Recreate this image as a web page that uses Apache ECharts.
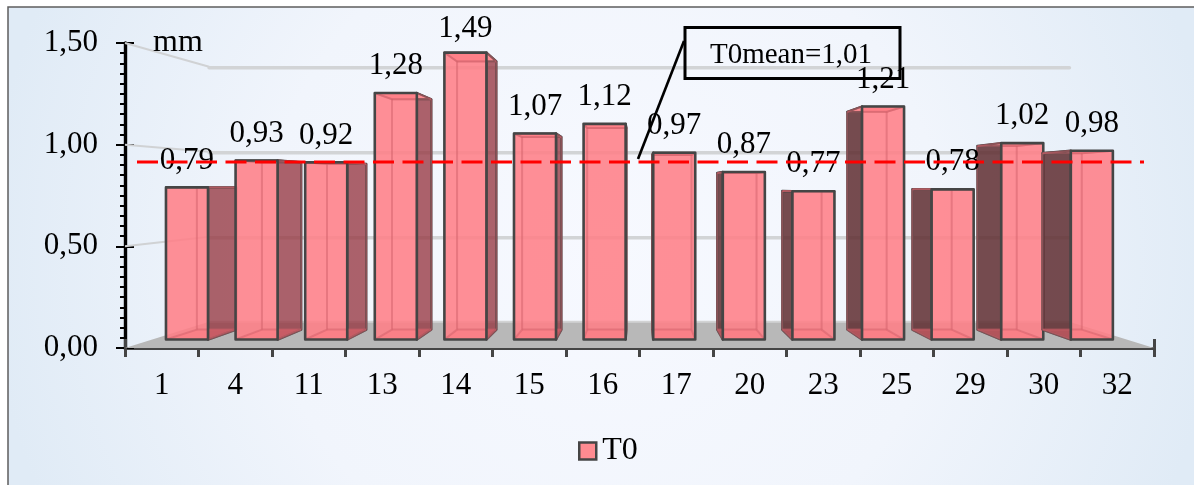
<!DOCTYPE html>
<html>
<head>
<meta charset="utf-8">
<style>html,body{margin:0;padding:0;background:#fff}#chart{width:1194px;height:485px}</style>
<script src="https://cdn.jsdelivr.net/npm/echarts@6/dist/echarts.min.js"></script>
</head>
<body>
<div id="chart"></div>
<script>
// Specimen numbers on the category axis
const specimens = ['1', '4', '11', '13', '14', '15', '16', '17', '20', '23', '25', '29', '30', '32'];
// T0 thickness per specimen, in mm
const t0Values = [0.79, 0.93, 0.92, 1.28, 1.49, 1.07, 1.12, 0.97, 0.87, 0.77, 1.21, 0.78, 1.02, 0.98];
const gridLevels = [0.5, 1.0, 1.5];
const meanLineLevel = 0.915;
const meanCaption = 'T0mean=1,01';
const seriesName = 'T0';
const unitName = 'mm';

const SERIF = '"Liberation Serif","Times New Roman",serif';
const comma = v => v.toFixed(2).replace('.', ',');

// One-point perspective: depth factors for the front of the bars, their back and the rear wall
const KF = 0.947, KB = 0.885, KW = 0.836, VX = 638, VY = 188;
const persp = (p, k) => [VX + (p[0] - VX) * k, VY + (p[1] - VY) * k];

function renderRoom(params, api) {
  const cs = params.coordSys;
  const l = cs.x, r = cs.x + cs.width, b = cs.y + cs.height;
  const kids = [{
    type: 'polygon',
    shape: { points: [[l, b], [r, b], persp([r, b], KW), persp([l, b], KW)] },
    style: { fill: '#b8b8b8' }
  }, {
    type: 'line',
    shape: { x1: persp([l, b], KW)[0], y1: persp([l, b], KW)[1], x2: persp([r, b], KW)[0], y2: persp([r, b], KW)[1] },
    style: { stroke: '#d2d3d4', lineWidth: 2 }
  }];
  gridLevels.forEach(v => {
    const y = api.coord([0, v])[1];
    const a = persp([l, y], KW), c = persp([r, y], KW);
    kids.push({ type: 'line', shape: { x1: l, y1: y, x2: a[0], y2: a[1] }, style: { stroke: '#d0d2d4', lineWidth: 2 } });
    kids.push({ type: 'line', shape: { x1: a[0], y1: a[1] + 1, x2: c[0], y2: c[1] + 1 }, style: { stroke: '#d2d4d6', lineWidth: 3.6, lineCap: 'round' } });
  });
  return { type: 'group', children: kids };
}

function renderBar(params, api) {
  const idx = api.value(0), v = api.value(1);
  const top = api.coord([idx, v]), base = api.coord([idx, 0]);
  const hw = api.size([1, 0])[0] * 0.302;
  const corners = k => ({
    lt: persp([base[0] - hw, top[1]], k), rt: persp([base[0] + hw, top[1]], k),
    lb: persp([base[0] - hw, base[1]], k), rb: persp([base[0] + hw, base[1]], k)
  });
  const f = corners(KF), k = corners(KB);
  const edge = '#454545';
  const leftOfCentre = f.rt[0] < VX;
  const sidePts = leftOfCentre ? [f.rt, k.rt, k.rb, f.rb] : [f.lt, k.lt, k.lb, f.lb];
  const inner = 'rgba(210,95,105,0.5)';
  const line = (a, c) => ({ type: 'line', shape: { x1: a[0], y1: a[1], x2: c[0], y2: c[1] }, style: { stroke: inner, lineWidth: 2 } });
  return {
    type: 'group',
    children: [
      { type: 'polygon', shape: { points: sidePts }, style: { fill: leftOfCentre ? 'rgba(150,55,65,0.78)' : 'rgba(95,45,48,0.85)', stroke: edge, lineWidth: 2.4, lineJoin: 'round' } },
      { type: 'polygon', shape: { points: [f.lb, f.rb, k.rb, k.lb] }, style: { fill: 'rgba(235,100,110,0.55)' } },
      { type: 'polygon', shape: { points: [f.lt, f.rt, k.rt, k.lt] }, style: { fill: '#fc8d93', stroke: edge, lineWidth: 1.8, lineJoin: 'round' } },
      { type: 'polygon', shape: { points: [f.lt, f.rt, f.rb, f.lb] }, style: { fill: 'rgba(255,126,134,0.87)' } },
      line(k.lt, k.lb), line(k.rt, k.rb), line(k.lt, k.rt), line(k.lb, k.rb),
      line(f.lt, k.lt), line(f.rt, k.rt), line(f.lb, k.lb), line(f.rb, k.rb),
      { type: 'polygon', shape: { points: [f.lt, f.rt, f.rb, f.lb] }, style: { fill: 'none', stroke: edge, lineWidth: 2.6, lineJoin: 'round' } }
    ]
  };
}

function renderValueLabel(params, api) {
  const idx = api.value(0), v = api.value(1);
  const p = persp(api.coord([idx, v]), KF);
  return {
    type: 'text',
    // The tallest bar's label stays below the top of the frame
    style: { text: comma(v), x: p[0], y: Math.max(p[1] - 27, 29), align: 'center', verticalAlign: 'middle', font: '31px ' + SERIF, fill: '#000' }
  };
}

function renderMeanLine(params, api) {
  const cs = params.coordSys;
  const y = api.coord([0, meanLineLevel])[1];
  return {
    type: 'line',
    shape: { x1: cs.x + 12, y1: y, x2: cs.x + cs.width - 10, y2: y },
    style: { stroke: '#ff0000', lineWidth: 3, lineDash: [21, 8.5] }
  };
}

const barData = t0Values.map((v, i) => [i, v]);
const oneItem = [[0, 0]];
const layerBase = { type: 'custom', animation: false, silent: true, clip: false, encode: { x: 0, y: 1 } };

const chart = echarts.init(document.getElementById('chart'), null, { renderer: 'canvas' });
chart.setOption({
  animation: false,
  backgroundColor: '#ffffff',
  textStyle: { fontFamily: SERIF },
  grid: { left: 125, right: 40, top: 43, bottom: 137, containLabel: false },
  legend: {
    left: 573, top: 430,
    data: [{ name: seriesName, icon: 'rect', itemStyle: { color: '#ff8b91', borderColor: '#454545', borderWidth: 2.5 } }],
    itemWidth: 17, itemHeight: 17, itemGap: 4, selectedMode: false,
    textStyle: { fontFamily: SERIF, fontSize: 32, color: '#000', padding: [0, 0, 0, 1] }
  },
  xAxis: [{
    type: 'category', data: specimens, position: 'bottom',
    axisLine: { lineStyle: { color: '#454545', width: 3 } },
    axisTick: { show: true, length: 9, lineStyle: { color: '#454545', width: 3 } },
    axisLabel: { fontFamily: SERIF, fontSize: 31, color: '#000', margin: 22 },
    splitLine: { show: false }
  }, {
    type: 'category', data: specimens, position: 'bottom',
    axisLine: { show: false },
    axisTick: { show: true, inside: true, length: 9, lineStyle: { color: '#454545', width: 3 } },
    axisLabel: { show: false }, splitLine: { show: false }
  }],
  yAxis: [{
    type: 'value', min: 0, max: 1.5, interval: 0.5, position: 'left',
    axisLine: { show: true, lineStyle: { color: '#000', width: 3.4 } },
    axisTick: { show: true, length: 9, lineStyle: { color: '#000', width: 2 } },
    minorTick: { show: true, splitNumber: 10, length: 5, lineStyle: { color: '#000', width: 2 } },
    axisLabel: { fontFamily: SERIF, fontSize: 31, color: '#000', margin: 27, padding: [6, 0, 0, 0], formatter: comma },
    splitLine: { show: false }
  }, {
    type: 'value', min: 0, max: 1.5, interval: 0.5, position: 'left',
    axisLine: { show: false },
    axisTick: { show: true, inside: true, length: 9, lineStyle: { color: '#000', width: 2 } },
    axisLabel: { show: false }, splitLine: { show: false }
  }],
  graphic: [{
    type: 'rect', z: -10, silent: true,
    shape: { x: 8, y: 7, width: 1192, height: 484 },
    style: {
      stroke: '#5e5e5e', lineWidth: 1.5,
      fill: {
        type: 'radial', x: 0.5, y: 0.5, r: 1.27,
        colorStops: [{ offset: 0, color: '#f7f9ff' }, { offset: 0.55, color: '#f1f5fc' }, { offset: 1, color: '#e0ebf6' }]
      }
    }
  }, {
    type: 'text', z: 20, silent: true,
    style: { text: unitName, x: 178, y: 43, align: 'center', verticalAlign: 'middle', font: '32px ' + SERIF, fill: '#000' }
  }, {
    type: 'polyline', z: 20, silent: true,
    shape: { points: [[684, 41], [638, 159]] },
    style: { stroke: '#000', lineWidth: 2.6, fill: 'none' }
  }, {
    type: 'rect', z: 20, silent: true,
    shape: { x: 685, y: 27.5, width: 215, height: 51 },
    style: { stroke: '#000', lineWidth: 3, fill: 'none' }
  }, {
    type: 'text', z: 21, silent: true,
    style: { text: meanCaption, x: 791, y: 55, align: 'center', verticalAlign: 'middle', font: '29px ' + SERIF, fill: '#000' }
  }],
  series: [
    Object.assign({}, layerBase, { name: 'room', z: 1, data: oneItem, renderItem: renderRoom }),
    Object.assign({}, layerBase, { name: seriesName, z: 2, data: barData, renderItem: renderBar, itemStyle: { color: '#ff8b91' } }),
    Object.assign({}, layerBase, { name: 'values', z: 3, data: barData, renderItem: renderValueLabel }),
    Object.assign({}, layerBase, { name: 'mean', z: 4, data: oneItem, renderItem: renderMeanLine })
  ]
});
</script>
</body>
</html>
